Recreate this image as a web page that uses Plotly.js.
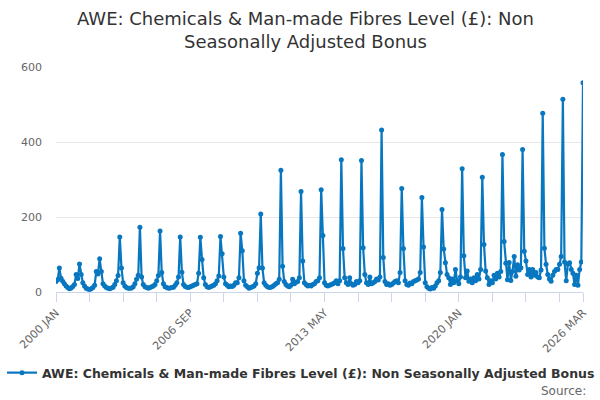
<!DOCTYPE html>
<html>
<head>
<meta charset="utf-8">
<script src="https://cdn.plot.ly/plotly-3.0.1.min.js"></script>
<style>html,body{margin:0;padding:0;background:#fff;}#chart{width:600px;height:400px;}</style>
</head>
<body>
<div id="chart"></div>
<script>
const chartTitle = "AWE: Chemicals & Man-made Fibres Level (£): Non<br>Seasonally Adjusted Bonus";
const seriesName = "AWE: Chemicals & Man-made Fibres Level (£): Non Seasonally Adjusted Bonus";
const monthNames = ["JAN","FEB","MAR","APR","MAY","JUN","JUL","AUG","SEP","OCT","NOV","DEC"];
const firstYear = 2000;
const bonus = [
  28, 33, 64, 37, 29, 22, 16, 12, 9, 11, 15, 20,
  47, 36, 75, 47, 25, 16, 10, 8, 7, 9, 12, 18,
  55, 48, 89, 55, 22, 16, 12, 10, 9, 11, 13, 20,
  30, 44, 147, 64, 25, 16, 12, 10, 10, 11, 14, 22,
  34, 45, 173, 40, 20, 14, 12, 10, 12, 14, 16, 20,
  30, 44, 163, 52, 22, 14, 12, 10, 11, 12, 13, 18,
  25, 40, 147, 53, 20, 15, 13, 12, 14, 16, 18, 20,
  22, 50, 146, 87, 38, 20, 14, 12, 14, 16, 18, 22,
  30, 43, 148, 102, 40, 22, 18, 14, 16, 15, 18, 25,
  25, 38, 157, 110, 30, 18, 14, 10, 12, 14, 16, 22,
  50, 65, 208, 64, 25, 18, 14, 12, 13, 15, 18, 22,
  25, 34, 325, 69, 28, 20, 16, 14, 18, 34, 22, 26,
  28, 38, 268, 83, 25, 20, 16, 18, 16, 20, 22, 28,
  30, 38, 273, 151, 25, 18, 16, 18, 20, 22, 25, 30,
  22, 30, 353, 116, 38, 25, 20, 38, 22, 18, 20, 28,
  25, 30, 351, 118, 47, 25, 20, 40, 22, 25, 28, 35,
  32, 40, 432, 92, 28, 20, 22, 18, 20, 24, 28, 30,
  25, 52, 276, 116, 30, 20, 18, 24, 22, 28, 30, 32,
  35, 52, 252, 120, 25, 14, 10, 8, 12, 10, 16, 25,
  30, 52, 220, 115, 78, 47, 38, 20, 35, 25, 60, 30,
  22, 40, 329, 97, 38, 56, 29, 35, 25, 38, 30, 47,
  35, 60, 306, 127, 56, 38, 20, 30, 25, 45, 35, 50,
  40, 55, 367, 135, 77, 33, 79, 31, 55, 95, 42, 73,
  59, 65, 380, 109, 83, 47, 60, 40, 60, 45, 52, 40,
  38, 59, 477, 117, 74, 47, 35, 29, 45, 55, 60, 60,
  74, 95, 514, 80, 30, 75, 78, 60, 50, 20, 45, 18,
  60, 80, 558
];
const tickStep = 20;
const labelStep = 80;

const periods = bonus.map((_, i) => (firstYear + Math.floor(i / 12)) + " " + monthNames[i % 12]);
const tickvals = [], ticktext = [];
for (let i = 0; i < periods.length; i += tickStep) {
  tickvals.push(periods[i]);
  ticktext.push(i % labelStep === 0 ? periods[i] : "");
}
tickvals.push(periods[periods.length - 1]);
ticktext.push(periods[periods.length - 1]);

const trace = {
  x: periods, y: bonus, type: "scatter", mode: "lines+markers",
  name: seriesName,
  line: {color: "#0877c0", width: 2.2},
  marker: {color: "#0877c0", size: 5}
};
const layout = {
  width: 600, height: 400,
  paper_bgcolor: "#fff", plot_bgcolor: "#fff",
  font: {family: "DejaVu Sans, Verdana, sans-serif", color: "#666"},
  margin: {l: 45, r: 17, t: 67, b: 108, pad: 0},
  xaxis: {type: "category", range: [0, periods.length - 1],
          tickvals: tickvals, ticktext: ticktext, tickangle: -45,
          ticks: "outside", ticklen: 9, tickcolor: "#ccd6eb", tickwidth: 1,
          showline: true, linecolor: "#ccd6eb", linewidth: 1,
          showgrid: false, zeroline: false,
          tickfont: {size: 11, color: "#666"}},
  yaxis: {range: [0, 600], tickvals: [0, 200, 400, 600],
          showgrid: true, gridcolor: "#e6e6e6", gridwidth: 1,
          zeroline: false, showline: false, ticks: "", ticklabelstandoff: 13,
          tickfont: {size: 11, color: "#666"}},
  showlegend: true,
  legend: {orientation: "h", x: -0.0836, xanchor: "left", y: -0.36, yanchor: "middle",
           font: {size: 12.5, color: "#333", family: "DejaVu Sans, Verdana, sans-serif", weight: "bold"},
           itemwidth: 30},
  annotations: [
    {text: chartTitle, xref: "paper", yref: "paper", x: (300 - 45) / 538, xanchor: "center",
     y: 1.27, yanchor: "top", showarrow: false, align: "center",
     font: {size: 18, color: "#333", family: "DejaVu Sans, Verdana, sans-serif"}},
    {text: "Source:", xref: "paper", yref: "paper", x: 1.009, xanchor: "right",
     y: -0.44, yanchor: "middle", showarrow: false,
     font: {size: 12, color: "#666"}}]
};
Plotly.newPlot("chart", [trace], layout, {displayModeBar: false, staticPlot: true});
</script>
</body>
</html>
